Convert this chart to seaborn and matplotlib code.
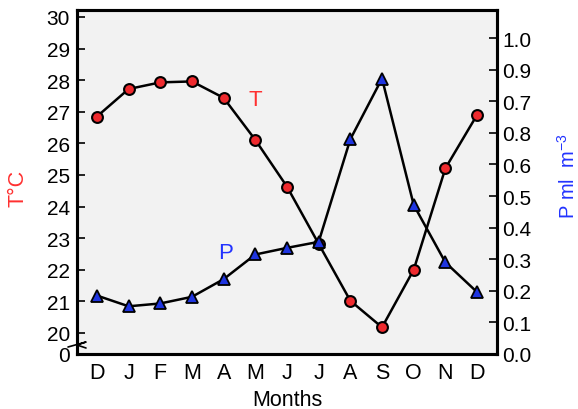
import matplotlib
matplotlib.use("Agg")
import matplotlib.pyplot as plt
import seaborn as sns
import numpy as np
import pandas as pd
from matplotlib.lines import Line2D

months = ['D', 'J', 'F', 'M', 'A', 'M', 'J', 'J', 'A', 'S', 'O', 'N', 'D']
temp_c = [26.85, 27.72, 27.93, 27.96, 27.44, 26.11, 24.63, 22.82, 21.02, 20.18, 22.00, 25.21, 26.90]
plankton = [0.185, 0.151, 0.160, 0.181, 0.237, 0.315, 0.336, 0.355, 0.680, 0.872, 0.472, 0.290, 0.196]
left_ticks = [20, 21, 22, 23, 24, 25, 26, 27, 28, 29, 30]
right_ticks = [0.0, 0.1, 0.2, 0.3, 0.4, 0.5, 0.6, 0.7, 0.8, 0.9, 1.0]
right_labels = ['0.0', '0.1', '0.2', '0.3', '0.4', '0.5', '0.6', '0.8', '0.7', '0.9', '1.0']

sns.set_style("white")
plt.rcParams['font.family'] = ['Liberation Sans', 'DejaVu Sans']
plt.rcParams['mathtext.fontset'] = 'custom'
plt.rcParams['mathtext.rm'] = 'Liberation Sans'
plt.rcParams['text.color'] = 'black'
plt.rcParams['axes.labelcolor'] = 'black'

df = pd.DataFrame({'pos': np.arange(len(months)), 'T': temp_c, 'P': plankton})

fig = plt.figure(figsize=(5.78, 4.10), dpi=100)
ax = fig.add_axes([77/578, 55/410, 420/578, 344/410])
ax.set_facecolor('#f2f2f2')
ax2 = ax.twinx()

sns.lineplot(data=df, x='pos', y='T', ax=ax, color='black', linewidth=1.8, sort=False,
             marker='o', markersize=7.8, markerfacecolor='#ee2a2e', markeredgecolor='black',
             markeredgewidth=1.5, zorder=3)
sns.lineplot(data=df, x='pos', y='P', ax=ax2, color='black', linewidth=1.8, sort=False,
             marker='^', markersize=8.8, markerfacecolor='#1f35e0', markeredgecolor='black',
             markeredgewidth=1.3, zorder=3)

y0 = 20 - 21/31.6
ax.set_ylim(y0, 30.22)
ax2.set_ylim(0, 1.089)
ax.set_xlim(-0.63, 12.63)

ax.set_xticks(df['pos'])
ax.set_xticklabels(months, fontsize=15.5)
ax.set_yticks([y0] + left_ticks)
ax.set_yticklabels(['0'] + [str(t) for t in left_ticks], fontsize=15)
ax2.set_yticks(right_ticks)
ax2.set_yticklabels(right_labels, fontsize=15)

ax.tick_params(axis='y', direction='in', length=6, width=1.2, pad=5, colors='black')
ax.tick_params(axis='x', direction='in', length=5, width=1.2, pad=6, colors='black')
ax2.tick_params(axis='y', direction='in', length=6, width=1.2, pad=4, colors='black')

for a in (ax, ax2):
    for s in a.spines.values():
        s.set_linewidth(2.2)
        s.set_color('black')
        s.set_visible(True)

ax.set_xlabel('Months', fontsize=15.5, color='black')
ax.xaxis.set_label_coords(0.5, -0.103)
ax.set_ylabel('T°C', fontsize=15.5, color='#ff3030')
ax.yaxis.set_label_coords(-0.115, 0.485)
ax2.set_ylabel('P ml  m$^{-3}$', fontsize=14.5, color='#2233ff')
ax2.yaxis.set_label_coords(1.143, 0.52)

ax.text(5.0, 27.38, 'T', color='#ff3030', fontsize=16, ha='center', va='center')
ax2.text(4.05, 0.322, 'P', color='#2233ff', fontsize=16, ha='center', va='center')

# axis break mark on the left spine
brk_x = [-9/420, 9/420, 0.0, 9/420]
brk_y = [7/344, 12/344, 9/344, 6/344]
ax.add_line(Line2D(brk_x, brk_y, transform=ax.transAxes, color='black', linewidth=1.2,
                   clip_on=False, zorder=5))

fig.savefig('out.png', dpi=100)
